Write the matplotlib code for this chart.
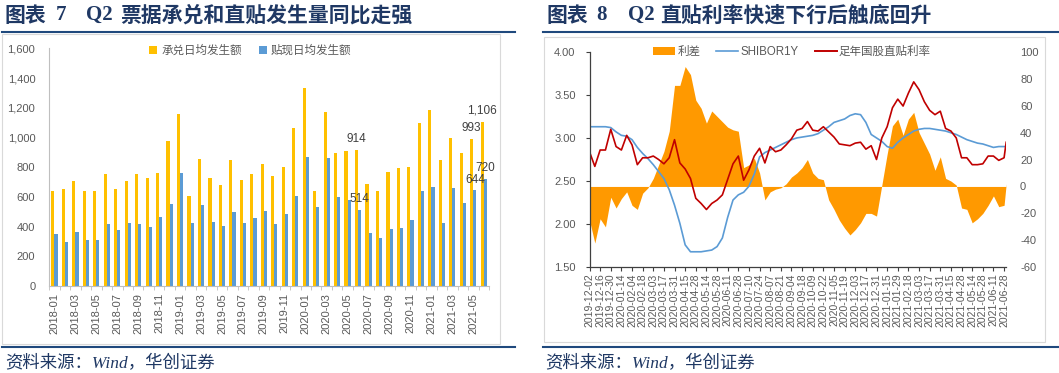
import numpy as np
import pandas as pd
import matplotlib
matplotlib.use("Agg")
import matplotlib.pyplot as plt
from matplotlib.patches import Rectangle, Patch
from matplotlib.lines import Line2D
from matplotlib.ticker import FuncFormatter

plt.rcParams['font.family'] = ['Liberation Sans', 'Noto Sans CJK SC']
plt.rcParams['axes.unicode_minus'] = False

W, H = 1059, 373

# 图表7: 票据承兑 / 贴现 日均发生额 (亿元)
months = pd.period_range('2018-01', '2021-06', freq='M').strftime('%Y-%m').tolist()
accept = [637, 650, 706, 637, 639, 755, 652, 708, 757, 726, 764, 974, 1155, 605,
          853, 724, 677, 847, 717, 751, 824, 739, 798, 1066, 1336, 643, 1173, 898,
          911, 914, 690, 639, 766, 795, 802, 1099, 1182, 851, 996, 894, 993, 1106]
discount = [349, 295, 364, 313, 308, 420, 375, 427, 416, 395, 462, 554, 764, 422,
            543, 433, 402, 498, 427, 456, 503, 418, 485, 605, 871, 529, 860, 596,
            579, 514, 355, 326, 384, 391, 447, 637, 670, 427, 663, 559, 644, 720]
label_idx = [29, 40, 41]

# 图表8: 每5个交易日取一个点, 最后一点为06-30
day_idx = list(range(0, 391, 5)) + [392]
spread = [-25, -42, -24, -30, -8, -16, -9, -4, -14, -17,
          -5, -1, 6, 16, 26, 41, 75, 75, 89, 83,
          64, 58, 47, 56, 52, 48, 44, 42, 41, 14,
          16, 21, 10, -10, -4, -2, -1, 2, 7, 10,
          14, 20, 10, 6, 5, -10, -17, -25, -31, -36,
          -32, -27, -20, -20, -22, 1, 24, 45, 50, 38,
          50, 55, 40, 32, 24, 12, 22, 6, 4, 1,
          -16, -17, -27, -24, -20, -14, -7, -15, -14, 2]
shibor = [3.13, 3.13, 3.13, 3.13, 3.12, 3.07, 3.03, 3.02, 2.98, 2.89,
          2.82, 2.76, 2.69, 2.61, 2.53, 2.40, 2.22, 2.01, 1.76, 1.68,
          1.68, 1.68, 1.69, 1.70, 1.74, 1.84, 2.08, 2.28, 2.34, 2.37,
          2.44, 2.58, 2.78, 2.83, 2.86, 2.89, 2.92, 2.95, 2.98, 3.00,
          3.01, 3.02, 3.03, 3.05, 3.09, 3.13, 3.18, 3.20, 3.22, 3.26,
          3.28, 3.27, 3.18, 3.04, 3.00, 2.96, 2.90, 2.88, 2.95, 3.00,
          3.04, 3.08, 3.10, 3.11, 3.11, 3.10, 3.09, 3.08, 3.06, 3.04,
          3.01, 2.98, 2.96, 2.94, 2.93, 2.91, 2.89, 2.90, 2.90, 2.90]
disc_rate = [2.84, 2.67, 2.86, 2.86, 3.10, 2.90, 2.86, 3.03, 2.92, 2.69,
             2.77, 2.77, 2.79, 2.75, 2.70, 2.77, 2.98, 2.71, 2.64, 2.53,
             2.30, 2.24, 2.17, 2.24, 2.28, 2.34, 2.52, 2.70, 2.79, 2.51,
             2.63, 2.79, 2.88, 2.71, 2.90, 2.84, 2.86, 2.92, 2.99, 3.09,
             3.11, 3.19, 3.09, 3.08, 3.13, 3.07, 3.01, 2.93, 2.92, 2.91,
             2.94, 2.95, 2.87, 2.91, 2.75, 3.00, 3.13, 3.35, 3.45, 3.37,
             3.52, 3.65, 3.56, 3.42, 3.32, 3.27, 3.31, 3.11, 3.08, 3.00,
             2.77, 2.77, 2.69, 2.69, 2.70, 2.79, 2.79, 2.74, 2.77, 2.95]
tick_dates = ['2019-12-02', '2019-12-16', '2019-12-30', '2020-01-14', '2020-02-04',
              '2020-02-18', '2020-03-03', '2020-03-17', '2020-03-31', '2020-04-15',
              '2020-04-28', '2020-05-14', '2020-05-28', '2020-06-11', '2020-06-28',
              '2020-07-10', '2020-07-24', '2020-08-07', '2020-08-21', '2020-09-04',
              '2020-09-18', '2020-10-09', '2020-10-22', '2020-11-05', '2020-11-19',
              '2020-12-03', '2020-12-17', '2020-12-31', '2021-01-15', '2021-01-29',
              '2021-02-18', '2021-03-03', '2021-03-17', '2021-03-31', '2021-04-15',
              '2021-04-28', '2021-05-14', '2021-05-28', '2021-06-11', '2021-06-28']

NAVY = '#1F3864'
LINE_BLUE = '#1F497D'
GRAY_TXT = '#595959'


def box(x0, y0, x1, y1):
    # 像素坐标 -> figure 坐标
    return [x0 / W, 1 - y1 / H, (x1 - x0) / W, (y1 - y0) / H]


fig = plt.figure(figsize=(W / 100, H / 100), dpi=100)

# ---------- 左图 ----------
ax = fig.add_axes(box(49.2, 48.4, 489, 286))
x = np.arange(len(months))
ax.bar(x - 0.15, accept, 0.3, color='#FFC000', linewidth=0)
ax.bar(x + 0.15, discount, 0.3, color='#5B9BD5', linewidth=0)
for i in label_idx:
    ax.annotate(f'{accept[i]:,}', (i - 0.15, accept[i]), xytext=(0, 3.5),
                textcoords='offset points', ha='center', va='bottom',
                fontsize=8.5, color='#404040')
    ax.annotate(f'{discount[i]:,}', (i + 0.15, discount[i]), xytext=(0, 3.5),
                textcoords='offset points', ha='center', va='bottom',
                fontsize=8.5, color='#404040')
ax.set_xlim(-0.5, len(months) - 0.5)
ax.set_ylim(0, 1600)
ax.set_yticks(range(0, 1601, 200))
ax.yaxis.set_major_formatter(FuncFormatter(lambda v, p: f'{v:,.0f}'))
ax.set_xticks(x[::2])
ax.set_xticklabels(months[::2], rotation=90)
ax.set_xticks(np.arange(-0.5, len(months), 1), minor=True)
ax.tick_params(axis='x', which='major', length=0, pad=5, labelsize=8, labelcolor=GRAY_TXT)
ax.tick_params(axis='x', which='minor', length=3, color='#BFBFBF')
ax.tick_params(axis='y', length=0, pad=10, labelsize=8, labelcolor=GRAY_TXT)
for s in ['top', 'right']:
    ax.spines[s].set_visible(False)
for s in ['left', 'bottom']:
    ax.spines[s].set_color('#BFBFBF')
    ax.spines[s].set_linewidth(0.8)

left_handles = [Patch(facecolor='#FFC000'), Patch(facecolor='#5B9BD5')]
fig.legend(left_handles, ['承兑日均发生额', '贴现日均发生额'], loc='upper left',
           bbox_to_anchor=(149 / W, 1 - 45 / H), ncol=2, frameon=False,
           borderpad=0, borderaxespad=0, handlelength=0.7, handleheight=0.7,
           handletextpad=0.35, columnspacing=1.5, prop={'size': 8.3},
           labelcolor=GRAY_TXT)

# ---------- 右图 ----------
ax2 = fig.add_axes(box(589.5, 51.7, 1006.2, 267.3))
ax2r = ax2.twinx()
ax2r.fill_between(day_idx, 0, spread, color='#FF9900', linewidth=0)
ax2r.set_ylim(-60, 100)
ax2r.set_yticks(range(-60, 101, 20))
ax2r.tick_params(axis='y', length=0, pad=10, labelsize=8, labelcolor=GRAY_TXT)
for s in ax2r.spines.values():
    s.set_visible(False)

ax2.plot(day_idx, shibor, color='#5B9BD5', linewidth=1.2)
ax2.plot(day_idx, disc_rate, color='#C00000', linewidth=1.2)
ax2.set_zorder(ax2r.get_zorder() + 1)
ax2.patch.set_visible(False)
ax2.set_xlim(0, 392)
ax2.set_ylim(1.5, 4.0)
ax2.set_yticks(np.arange(1.5, 4.01, 0.5))
ax2.yaxis.set_major_formatter(FuncFormatter(lambda v, p: f'{v:.2f}'))
ax2.set_xticks(range(0, 391, 10))
ax2.set_xticklabels(tick_dates, rotation=90)
ax2.tick_params(axis='x', length=3, pad=1.5, color='#404040', labelsize=7.5,
                labelcolor=GRAY_TXT)
ax2.tick_params(axis='y', length=3, pad=7, color='#404040', labelsize=8,
                labelcolor=GRAY_TXT)
for s in ['top', 'right']:
    ax2.spines[s].set_visible(False)
for s in ['left', 'bottom']:
    ax2.spines[s].set_color('#404040')
    ax2.spines[s].set_linewidth(0.9)

right_handles = [Patch(facecolor='#FF9900', edgecolor='none'),
                 Line2D([], [], color='#5B9BD5', linewidth=1.2),
                 Line2D([], [], color='#C00000', linewidth=1.4)]
fig.legend(right_handles, ['利差', 'SHIBOR1Y', '足年国股直贴利率'], loc='upper left',
           bbox_to_anchor=(653 / W, 1 - 46 / H), ncol=3, frameon=False,
           borderpad=0, borderaxespad=0, handlelength=1.9, handletextpad=0.2,
           columnspacing=1.4, prop={'size': 8.3}, labelcolor=GRAY_TXT)

# ---------- 边框、标题、来源 ----------
fig.add_artist(Rectangle((2 / W, 1 - 344 / H), 498 / W, 310 / H, transform=fig.transFigure,
                         fill=False, edgecolor='#D9D9D9', linewidth=0.8))
fig.add_artist(Rectangle((543.5 / W, 1 - 342 / H), 501.5 / W, 305.5 / H,
                         transform=fig.transFigure, fill=False, edgecolor='#D9D9D9',
                         linewidth=0.8))
for x0, x1 in [(2, 515), (543, 1059)]:
    for y in [32, 347]:
        fig.add_artist(Line2D([x0 / W, x1 / W], [1 - y / H, 1 - y / H],
                              transform=fig.transFigure, color=LINE_BLUE, linewidth=1.5))

cjk_bold = dict(family=['Noto Sans CJK SC'], weight='bold', size=15, color=NAVY, va='center')
num_bold = dict(family=['Liberation Serif'], weight='bold', size=15, color=NAVY, va='center')
ty = 1 - 15.2 / H
fig.text(4 / W, ty, '图表', **cjk_bold)
fig.text(56 / W, ty, '7', **num_bold)
fig.text(86 / W, ty, 'Q2', **num_bold)
fig.text(120 / W, ty, '票据承兑和直贴发生量同比走强', **cjk_bold)
fig.text(546 / W, ty, '图表', **cjk_bold)
fig.text(596 / W, ty, '8', **num_bold)
fig.text(628 / W, ty, 'Q2', **num_bold)
fig.text(660 / W, ty, '直贴利率快速下行后触底回升', **cjk_bold)

src = dict(family=['Liberation Serif', 'Noto Sans CJK SC'], style='italic', size=12.5,
           color=NAVY, va='center')
fig.text(5 / W, 1 - 364 / H, '资料来源：Wind，华创证券', **src)
fig.text(545 / W, 1 - 364 / H, '资料来源：Wind，华创证券', **src)

fig.savefig('out.png', dpi=100)
